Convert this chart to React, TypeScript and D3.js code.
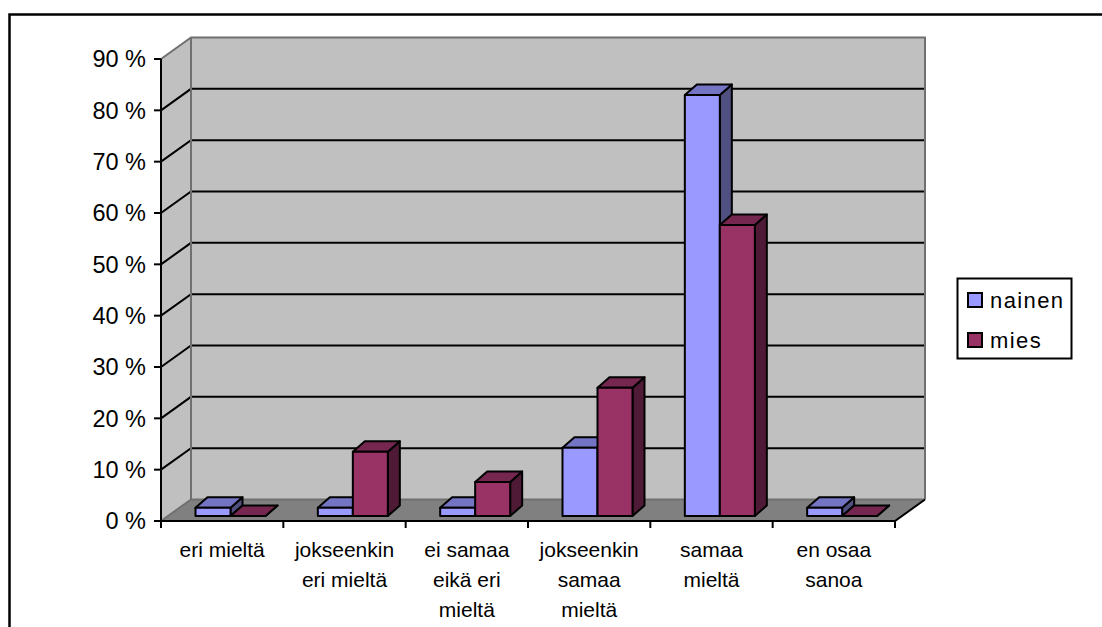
import React from "react";
import * as d3 from "d3";

const categories: string[][] = [
  ["eri mieltä"],
  ["jokseenkin", "eri mieltä"],
  ["ei samaa", "eikä eri", "mieltä"],
  ["jokseenkin", "samaa", "mieltä"],
  ["samaa", "mieltä"],
  ["en osaa", "sanoa"],
];
const nainen = [1.6, 1.6, 1.6, 13.3, 82, 1.6];
const mies = [0, 12.5, 6.6, 25, 56.7, 0];
const yTicks = [0, 10, 20, 30, 40, 50, 60, 70, 80, 90];

const FONT = "'Liberation Sans', Arial, sans-serif";

// Perspective offset of the back wall relative to the front of the floor.
const DX = 30;
const DY = -21.5;
// Depth of a bar and its distance from the front floor edge.
const BAR_DX = 12;
const BAR_DY = -10.5;
const BAR_GAP_Y = -5;
const BAR_LEFT = 34.5;
const BAR_W = 35;
const LINE = 2;

const poly = (pts: number[][]) => pts.map((p) => p.join(",")).join(" ");

type Shades = { front: string; top: string; side: string };
const nainenShades: Shades = { front: "#9999ff", top: "#7474c4", side: "#4f4f80" };
const miesShades: Shades = { front: "#993366", top: "#752750", side: "#4f1a35" };

function Bar({ x0, x1, yTop, yBase, shades }: { x0: number; x1: number; yTop: number; yBase: number; shades: Shades }) {
  const common = { stroke: "#000", strokeWidth: LINE, strokeLinejoin: "round" as const };
  return (
    <g>
      <polygon
        points={poly([[x1, yBase], [x1 + BAR_DX, yBase + BAR_DY], [x1 + BAR_DX, yTop + BAR_DY], [x1, yTop]])}
        fill={shades.side}
        {...common}
      />
      <polygon
        points={poly([[x0, yTop], [x0 + BAR_DX, yTop + BAR_DY], [x1 + BAR_DX, yTop + BAR_DY], [x1, yTop]])}
        fill={shades.top}
        {...common}
      />
      {yBase > yTop && <rect x={x0} y={yTop} width={x1 - x0} height={yBase - yTop} fill={shades.front} {...common} />}
    </g>
  );
}

export default function App() {
  const x = d3.scaleBand<number>().domain(d3.range(categories.length)).range([161, 895]).padding(0);
  const y = d3.scaleLinear().domain([0, 90]).range([521, 59]);
  const bw = x.bandwidth();
  const left = 161;
  const right = 895;
  const y0 = y(0);
  const y90 = y(90);

  const barX = (i: number, s: number) => {
    const start = x(i)! + BAR_LEFT;
    return [start + s * BAR_W, start + (s + 1) * BAR_W];
  };
  const barY = (v: number) => y(v) + BAR_GAP_Y;

  return (
    <svg
      width={1102}
      height={627}
      style={{ position: "absolute", left: 0, top: 0, display: "block", background: "#fff" }}
      fontFamily={FONT}
    >
      {/* outer chart frame, running off the right and bottom edges */}
      <path d="M9.5,627 V14.5 H1102" fill="none" stroke="#000" strokeWidth={2.5} />

      {/* walls and floor */}
      <polygon points={poly([[left, y0], [left + DX, y0 + DY], [left + DX, y90 + DY], [left, y90]])} fill="#c0c0c0" />
      <rect x={left + DX} y={y90 + DY} width={right - left} height={y0 - y90} fill="#c0c0c0" />
      <polygon
        points={poly([[left, y0], [left + DX, y0 + DY], [right + DX, y0 + DY], [right, y0]])}
        fill="#808080"
      />

      {/* gridlines over both walls */}
      {yTicks.slice(1, -1).map((t) => (
        <path
          key={t}
          d={`M${left},${y(t)} L${left + DX},${y(t) + DY} H${right + DX}`}
          fill="none"
          stroke="#000"
          strokeWidth={LINE}
        />
      ))}

      {/* grey wall edges */}
      <path
        d={`M${left},${y90} L${left + DX},${y90 + DY} H${right + DX} V${y0 + DY} M${left + DX},${y90 + DY} V${y0 + DY} H${right + DX} M${left},${y0} L${left + DX},${y0 + DY}`}
        fill="none"
        stroke="#707070"
        strokeWidth={LINE}
      />

      {/* axes */}
      <path d={`M${left},${y90} V${y0} H${right} L${right + DX},${y0 + DY}`} fill="none" stroke="#000" strokeWidth={LINE} />
      {yTicks.map((t) => (
        <g key={t}>
          <line x1={left - 7} x2={left} y1={y(t)} y2={y(t)} stroke="#000" strokeWidth={LINE} />
          <text x={146} y={y(t)} dy="0.35em" textAnchor="end" fontSize={23.5} fill="#000">
            {t} %
          </text>
        </g>
      ))}
      {d3.range(categories.length + 1).map((i) => {
        const tx = i === categories.length ? right : x(i)!;
        return <line key={i} x1={tx} x2={tx} y1={y0} y2={y0 + 7} stroke="#000" strokeWidth={LINE} />;
      })}

      {/* bars */}
      {categories.map((_, i) => {
        const [a0, a1] = barX(i, 0);
        const [b0, b1] = barX(i, 1);
        return (
          <g key={i}>
            <Bar x0={a0} x1={a1} yTop={barY(nainen[i])} yBase={barY(0)} shades={nainenShades} />
            <Bar x0={b0} x1={b1} yTop={barY(mies[i])} yBase={barY(0)} shades={miesShades} />
          </g>
        );
      })}

      {/* category labels */}
      {categories.map((lines, i) => (
        <text key={i} textAnchor="middle" fontSize={21} fill="#000">
          {lines.map((l, j) => (
            <tspan key={j} x={x(i)! + bw / 2} y={556.5 + j * 30}>
              {l}
            </tspan>
          ))}
        </text>
      ))}

      {/* legend */}
      <rect x={957.5} y={278.5} width={114} height={80} fill="#fff" stroke="#000" strokeWidth={2} />
      {[
        { name: "nainen", c: nainenShades.front, yy: 300 },
        { name: "mies", c: miesShades.front, yy: 340 },
      ].map((d) => (
        <g key={d.name}>
          <rect x={968} y={d.yy - 7} width={14} height={14} fill={d.c} stroke="#000" strokeWidth={2} />
          <text x={990} y={d.yy} dy="0.36em" fontSize={22} letterSpacing={1.4} fill="#000">
            {d.name}
          </text>
        </g>
      ))}
    </svg>
  );
}
